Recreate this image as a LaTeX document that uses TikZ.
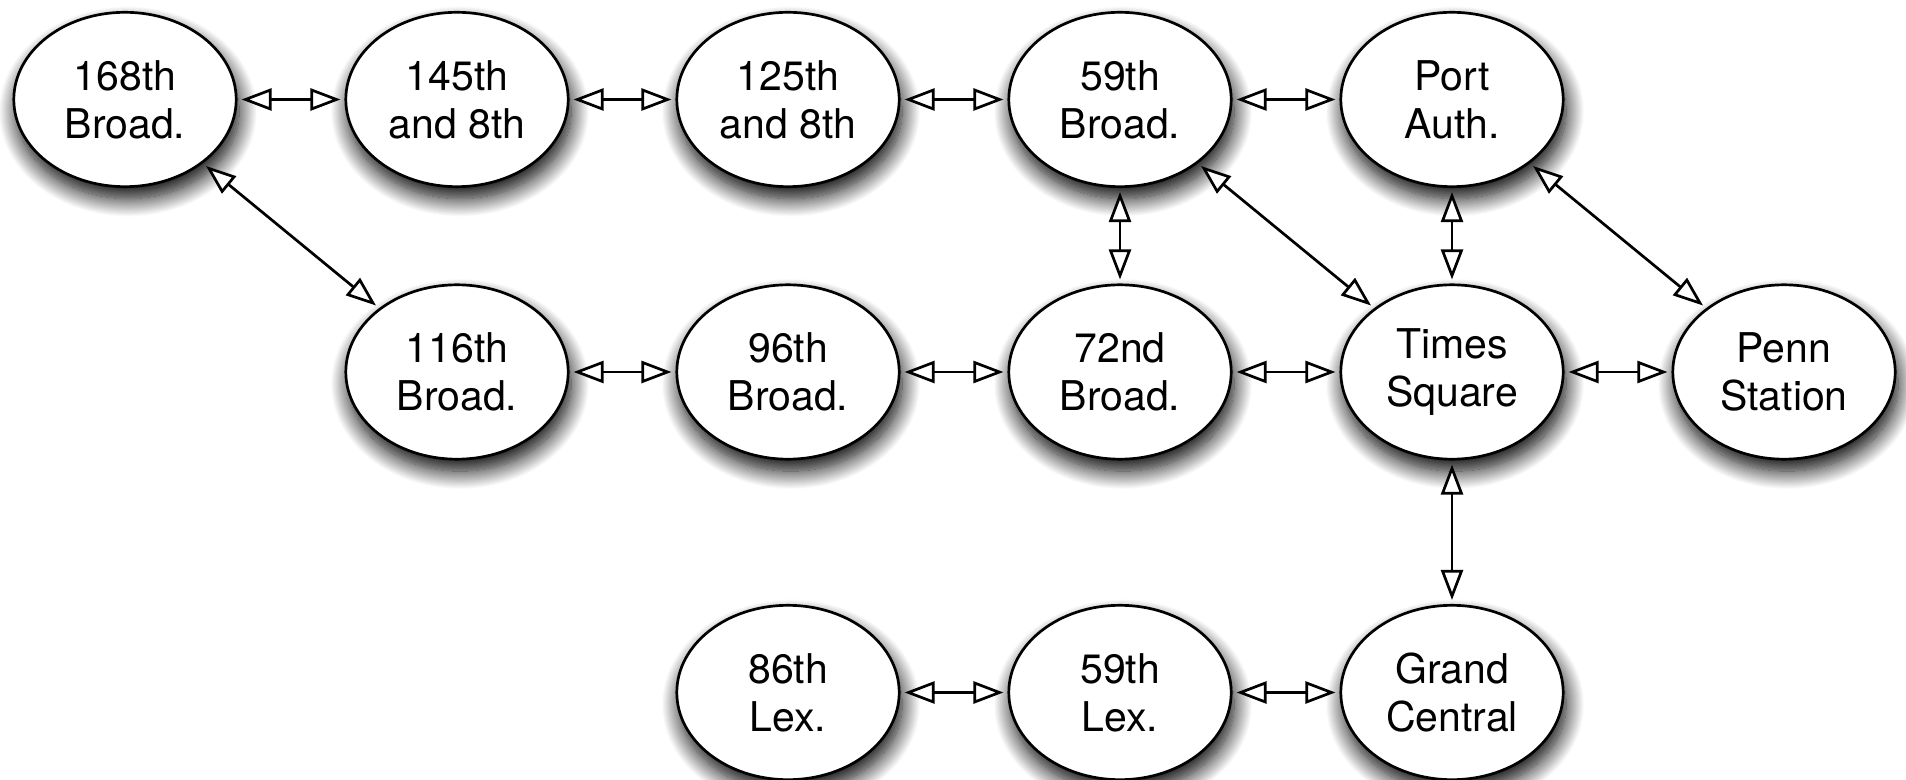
\documentclass[tikz,border=0pt]{standalone}
\usepackage{fontspec}
\setmainfont{TeX Gyre Heros}
\usetikzlibrary{shapes.geometric, arrows.meta, shadows.blur}
\begin{document}
\begin{tikzpicture}[x=0.5pt, y=-0.5pt,
  station/.style={ellipse, draw=black, line width=1.35pt, fill=white,
    minimum width=111.2pt, minimum height=87.2pt, inner sep=0pt,
    align=center, font=\fontsize{20.5}{24}\selectfont,
    blur shadow={shadow xshift=1.5pt, shadow yshift=-6pt, shadow blur radius=9pt, shadow blur steps=20, shadow opacity=100}},
  link/.style={line width=1.35pt,
    {Triangle[fill=white, length=15pt, width=11pt]}-{Triangle[fill=white, length=15pt, width=11pt]},
    shorten <=2pt, shorten >=2pt}]
\path[use as bounding box] (0,0) rectangle (1906,780);
% row 1
\node[station] (s168) at (125,99.5) {168th\\Broad.};
\node[station] (s145) at (457,99.5) {145th\\and 8th};
\node[station] (s125) at (788,99.5) {125th\\and 8th};
\node[station] (s59b) at (1120,99.5) {59th\\Broad.};
\node[station] (port) at (1452,99.5) {Port\\Auth.};
% row 2
\node[station] (s116) at (457,372) {116th\\Broad.};
\node[station] (s96) at (788,372) {96th\\Broad.};
\node[station] (s72) at (1120,372) {72nd\\Broad.};
\node[station] (times) at (1452,372) {Times\\Square};
\node[station] (penn) at (1784,372) {Penn\\Station};
% row 3
\node[station] (s86l) at (788,692.5) {86th\\Lex.};
\node[station] (s59l) at (1120,692.5) {59th\\Lex.};
\node[station] (grand) at (1452,692.5) {Grand\\Central};
% links
\draw[link] (s168) -- (s145);
\draw[link] (s145) -- (s125);
\draw[link] (s125) -- (s59b);
\draw[link] (s59b) -- (port);
\draw[link] (s168) -- (s116);
\draw[link] (s59b) -- (s72);
\draw[link] (s59b) -- (times);
\draw[link] (port) -- (times);
\draw[link] (port) -- (penn);
\draw[link] (s116) -- (s96);
\draw[link] (s96) -- (s72);
\draw[link] (s72) -- (times);
\draw[link] (times) -- (penn);
\draw[link] (times) -- (grand);
\draw[link] (s86l) -- (s59l);
\draw[link] (s59l) -- (grand);
\end{tikzpicture}
\end{document}
